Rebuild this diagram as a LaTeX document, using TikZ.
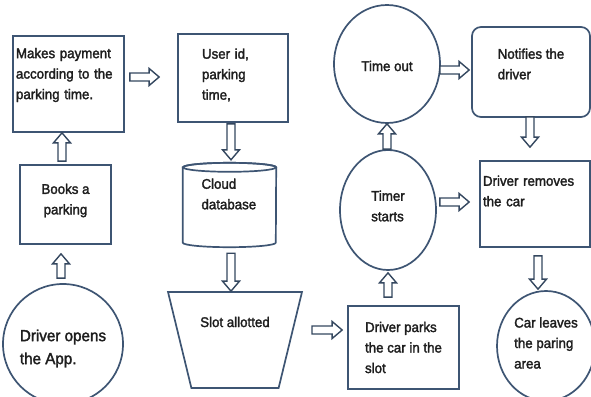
\documentclass[tikz,border=0pt]{standalone}
\usepackage{fontspec}
\setmainfont{Liberation Sans}[FakeBold=2, FakeStretch=0.95]
\usetikzlibrary{shapes.geometric,calc,positioning}

\definecolor{edgeblue}{HTML}{3E5573}
\definecolor{arrowblue}{HTML}{34475F}
\definecolor{inkgray}{HTML}{1E1E1E}

\tikzset{
  shapeline/.style={draw=edgeblue, line width=1.7pt, fill=white, inner sep=0pt},
  block/.style={shapeline, rectangle},
  roundblock/.style={shapeline, rectangle, rounded corners=9pt},
  oval/.style={shapeline, ellipse},
  store/.style={rectangle, inner sep=0pt},
  hopper/.style={shapeline, trapezium, shape border rotate=180, inner sep=2pt,
    trapezium angle=75, trapezium stretches=true},
  txt/.style={align=left, text=inkgray, inner sep=0pt,
    font=\fontsize{14}{20.5}\selectfont},
  % outlined block arrow between two points
  hollow/.style={draw=arrowblue, line width=1.4pt, fill=white, line join=miter,
    to path={let \p1=(\tikztostart), \p2=(\tikztotarget),
      \p3=($(\p2)!10pt!(\p1)$) in
      ($(\p1)!4pt!90:(\p2)$) -- ($(\p3)!4pt!90:(\p2)$)
      -- ($(\p3)!8.5pt!90:(\p2)$) -- (\p2)
      -- ($(\p3)!8.5pt!-90:(\p2)$) -- ($(\p3)!4pt!-90:(\p2)$)
      -- ($(\p1)!4pt!-90:(\p2)$) -- cycle}}
}

\begin{document}
\begin{tikzpicture}[x=1pt, y=-1pt]
\useasboundingbox (0,0) rectangle (591,396);

% left column
\node[block, minimum width=111pt, minimum height=96pt,
  label={[txt, text width=105pt, yshift=9pt]center:Makes payment\\according to the\\parking time.}]
  (pay) at (68.5,84) {};
\node[block, minimum width=91pt, minimum height=79pt,
  label={[txt, align=center, yshift=4pt]center:Books a\\parking}]
  (books) at (65.5,204.5) {};
\node[oval, minimum width=120pt, minimum height=120pt,
  label={[txt, font=\fontsize{16}{23}\selectfont, yshift=-4.5pt]center:Driver opens\\the App.}]
  (opens) at (63,344) {};

% middle column
\node[block, minimum width=110pt, minimum height=88pt,
  label={[txt, text width=62pt, yshift=3pt]center:User id,\\parking\\time,}]
  (user) at (233,78) {};
\node[store, minimum width=93pt, minimum height=84pt] (cloud) at (229.5,205) {};
% database drum around the cloud node
\path[shapeline] ([yshift=-4.5pt]cloud.north west) -- ([yshift=4.5pt]cloud.south west)
  arc[start angle=180, end angle=360, x radius=46.5pt, y radius=4.5pt]
  -- ([yshift=-4.5pt]cloud.north east)
  arc[start angle=0, end angle=180, x radius=46.5pt, y radius=4.5pt] -- cycle;
\draw[edgeblue, line width=1.7pt] ([yshift=-4.5pt]cloud.north)
  ellipse[x radius=46.5pt, y radius=4.5pt];
\node[txt, text width=56pt, yshift=11pt] (cloudtext) at (cloud) {Cloud\\database};
\node[hopper, minimum width=134pt, minimum height=96pt,
  label={[txt, yshift=18pt]center:Slot allotted}]
  (slot) at (235,340) {};
\node[block, minimum width=111pt, minimum height=83pt,
  label={[txt]center:Driver parks\\the car in the\\slot}]
  (parks) at (403.5,347.5) {};

% timer column
\node[oval, minimum width=96pt, minimum height=120pt,
  label={[txt, yshift=4pt]center:Timer\\starts}]
  (timer) at (388,210) {};
\node[oval, minimum width=106pt, minimum height=118pt,
  label={[txt, yshift=-2pt]center:Time out}]
  (timeout) at (387,64) {};

% right column
\node[roundblock, minimum width=118pt, minimum height=90pt,
  label={[txt, yshift=8pt]center:Notifies the\\driver}]
  (notify) at (531,72) {};
\node[block, minimum width=110pt, minimum height=86pt,
  label={[txt, text width=104pt, yshift=13pt]center:Driver removes\\the car}]
  (removes) at (535,204) {};
\node[oval, minimum width=98pt, minimum height=110pt,
  label={[txt, yshift=3pt]center:Car leaves\\the paring\\area}]
  (leaves) at (546,346) {};

% block arrows
\draw[hollow] ([shift={(-2,-5)}]opens.north) to ([shift={(-4.5,9)}]books.south);
\draw[hollow] ([shift={(-3.5,-3)}]books.north) to ([shift={(-6.5,0)}]pay.south);
\draw[hollow] ([shift={(5,-7)}]pay.east) to ([shift={(-18,-1)}]user.west);
\draw[hollow] ([shift={(-2,1)}]user.south) to ([shift={(1.5,-3)}]cloud.north);
\draw[hollow] ([shift={(1.5,6)}]cloud.south) to ([shift={(-4,0)}]slot.north);
\draw[hollow] ([shift={(77,-10)}]slot.center) to ([shift={(-5,-17.5)}]parks.west);
\draw[hollow] ([shift={(-15.5,-8)}]parks.north) to ([shift={(0,2)}]timer.south);
\draw[hollow] ([shift={(-1,0)}]timer.north) to (timeout.south);
\draw[hollow] ([shift={(-1,6)}]timeout.east) to ([shift={(-2,-2)}]notify.west);
\draw[hollow] ([shift={(-1,-1)}]notify.south) to ([shift={(-5,-13)}]removes.north);
\draw[hollow] ([shift={(3,-8)}]timer.east) to ([shift={(-10,-2)}]removes.west);
\draw[hollow] ([shift={(3,8)}]removes.south) to ([shift={(-8,-1)}]leaves.north);

\end{tikzpicture}
\end{document}
